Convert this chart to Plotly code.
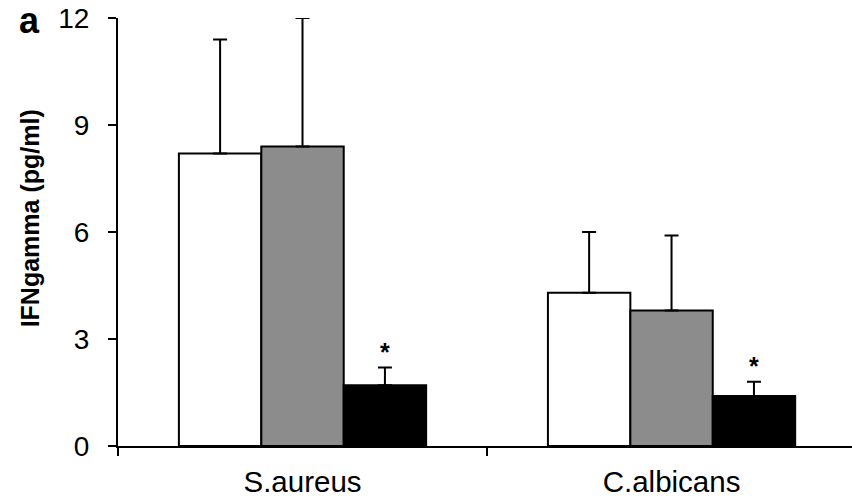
import plotly.graph_objects as go

# Pathogen stimulus groups
categories = ["S.aureus", "C.albicans"]

# Mean IFN-gamma (pg/ml) per condition and the upper error (SD)
white_vals = [8.2, 4.3]
white_err = [3.2, 1.7]
grey_vals = [8.4, 3.8]
grey_err = [3.6, 2.1]
black_vals = [1.7, 1.4]
black_err = [0.5, 0.4]

y_ticks = [0, 3, 6, 9, 12]
y_title = "IFNgamma (pg/ml)"
FONT = "Liberation Sans, Arial, sans-serif"
BAR_GAP = 0.33
BAR_W = (1 - BAR_GAP) / 3

fig = go.Figure()
series = [
    ("white", white_vals, white_err, "#ffffff"),
    ("grey", grey_vals, grey_err, "#8c8c8c"),
    ("black", black_vals, black_err, "#000000"),
]
for name, vals, err, color in series:
    fig.add_trace(go.Bar(
        x=categories, y=vals, name=name,
        marker=dict(color=color, line=dict(color="#000000", width=2)),
        error_y=dict(type="data", array=err, arrayminus=[0] * len(err),
                     symmetric=False, color="#000000", thickness=2, width=7),
        showlegend=False,
    ))

# Significance markers above the black bars (third bar of each group)
for i, (v, e) in enumerate(zip(black_vals, black_err)):
    fig.add_annotation(x=i + BAR_W, y=v + e, xref="x", yref="y", text="<b>*</b>",
                       showarrow=False, yanchor="bottom", yshift=0,
                       font=dict(family=FONT, size=25, color="#000000"))

# Panel letter
fig.add_annotation(x=-0.12, y=0.995, xref="paper", yref="paper", text="<b>a</b>",
                   showarrow=False, xanchor="center", yanchor="middle",
                   font=dict(family=FONT, size=36, color="#000000"))

# Rotated y-axis title, sitting slightly above the plot's vertical centre
fig.add_annotation(x=-0.1206, y=0.533, xref="paper", yref="paper",
                   text=f"<b>{y_title}</b>", textangle=-90, showarrow=False,
                   xanchor="center", yanchor="middle",
                   font=dict(family=FONT, size=25, color="#000000"))

fig.update_layout(
    width=852, height=500,
    margin=dict(l=118, r=0, t=18, b=54),
    paper_bgcolor="white", plot_bgcolor="white",
    barmode="group", bargap=BAR_GAP, bargroupgap=0,
    font=dict(family=FONT, size=28, color="#000000"),
    xaxis=dict(
        range=[-0.5, 1.489], showline=True, linecolor="#000000", linewidth=2,
        ticks="outside", tickson="boundaries", ticklen=8, tickwidth=2,
        tickcolor="#000000", showgrid=False, zeroline=False,
        tickfont=dict(family=FONT, size=29.5), ticklabelstandoff=9,
    ),
    yaxis=dict(
        range=[0, 12], tickvals=y_ticks, showline=True, linecolor="#000000",
        linewidth=2, ticks="outside", ticklen=8, tickwidth=2,
        tickcolor="#000000", showgrid=False, zeroline=False,
        tickfont=dict(family=FONT, size=28), ticklabelstandoff=13,
    ),
)

fig.write_html("out.html")
